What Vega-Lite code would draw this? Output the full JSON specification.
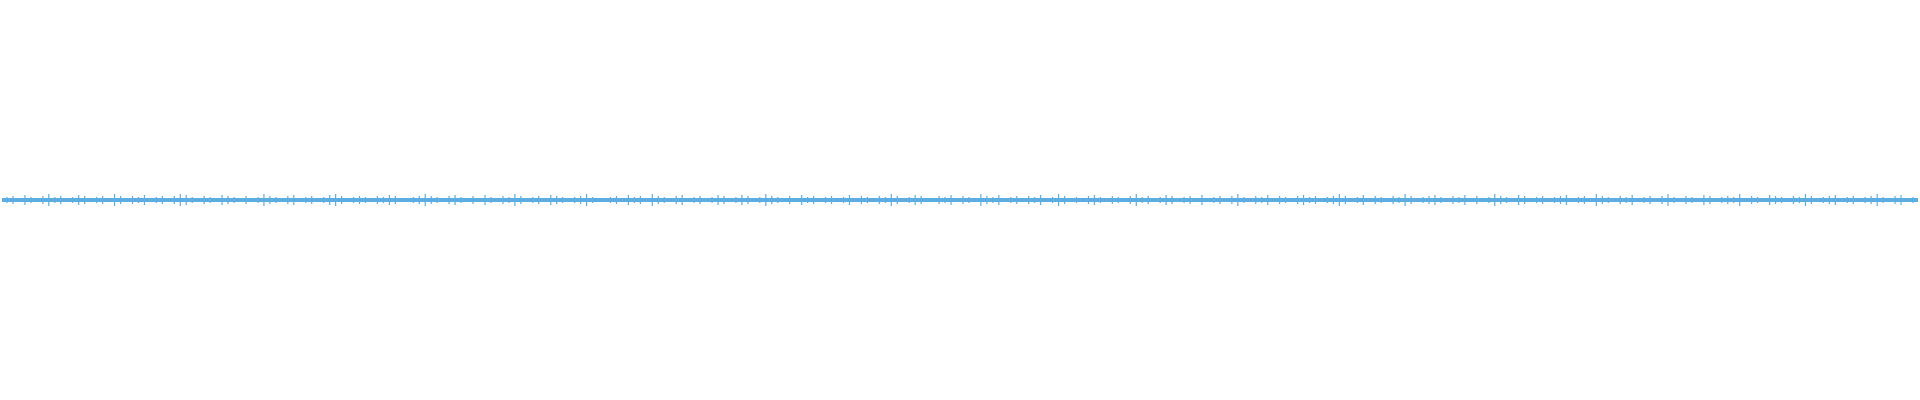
{
  "$schema": "https://vega.github.io/schema/vega-lite/v6.json",
  "width": 1920,
  "height": 400,
  "autosize": {"type": "fit", "contains": "padding"},
  "padding": 0,
  "background": "white",
  "config": {"view": {"stroke": null}},
  "datasets": {
    "amp": [1.5,2,1,2.5,1.5,1,2,3,1.5,2,1,1.5,2.5,2,1,1.5,2,1,3,2,1,2,1.5,2.5,1,1.5,2,1,2,3,2.5,1.5,1,2,1.5,1,2.5,2,1.5,1,2,1,1.5,3,2,1.5,1,2,2.5,1,1.5,2,1,1.5,2.5,3,2,1,1.5,2,1.5,1,2,1.5,2.5,2,1,1,1.5,2,3,2,1.5,1,2,2.5,1.5,1,2,1,2.5,1.5,1,2,1.5,3,2,1,1.5,2,1,2.5,2,1.5,1,1.5,2,3,1.5,1,1,1.5,2,1,2.5,1.5,2,1,3,2,1.5,1,2,2.5,1,1.5,2,1,1.5,2.5,2,1,1.5,2.5,2,1,1.5,3,2,1.5,1,2,1,2.5,1.5,2,1,1.5,2,1,1.5,2.5,1,2,1.5,1,2,1.5,3,2,1,1.5,2.5,2,1,1,2,1.5,2.5,1,2,1.5,1,3,2,1.5,2.5,1,1.5,2,1,2,1.5,2.5,1,1.5,3,2,1,1.5,1,2,2.5,1.5,1,2,1.5,1,2,3,1.5,2,1,1.5,2.5,2,1,1.5,2,1,2.5,1,1.5,2,1,2,3,1.5,1,2,1.5,2.5,1,2,1.5,1,2,2.5,1.5,2,1,1.5,2,3,2,1,1.5,2.5,1,2,1.5,1,2,1.5,3,2,1,1.5,2,2.5,1.5,1,2,1.5,2.5,1,2,1,1.5,3,2,1.5,1,2.5,2,1,1.5,2,1,1.5,2,2.5,1,1.5,2,1,3,2,1.5,1,2,1.5,2.5,1,1.5,2,1,2,3,1.5,1,2,1.5,1,2.5,2,1,1.5,2,1.5,3,1,2,1.5,1,2.5,2,1.5,1,2,1.5,3,2,1,1.5,2,2.5,1,1.5,2,1,1.5,2,3,1.5,1,2,2.5,1,1.5]
  },
  "data": {"name": "amp"},
  "transform": [
    {"window": [{"op": "row_number", "as": "n"}]}
  ],
  "resolve": {"scale": {"y": "independent"}},
  "layer": [
    {
      "mark": {"type": "rule", "color": "#5DADE2", "strokeWidth": 3},
      "encoding": {"y": {"datum": 0, "type": "quantitative", "scale": {"domain": [-100, 100]}, "axis": null}}
    },
    {
      "mark": {"type": "bar", "color": "#5DADE2", "width": 1.2},
      "encoding": {
        "x": {"field": "n", "type": "quantitative", "scale": {"domain": [1, 320], "nice": false, "zero": false}, "axis": null},
        "y": {"field": "data", "type": "quantitative", "stack": null, "scale": {"domain": [-100, 100]}, "axis": null}
      }
    },
    {
      "mark": {"type": "bar", "color": "#5DADE2", "width": 1.2},
      "encoding": {
        "x": {"field": "n", "type": "quantitative", "scale": {"domain": [1, 320], "nice": false, "zero": false}, "axis": null},
        "y": {"field": "data", "type": "quantitative", "stack": null, "scale": {"domain": [-100, 100], "reverse": true}, "axis": null}
      }
    }
  ]
}
